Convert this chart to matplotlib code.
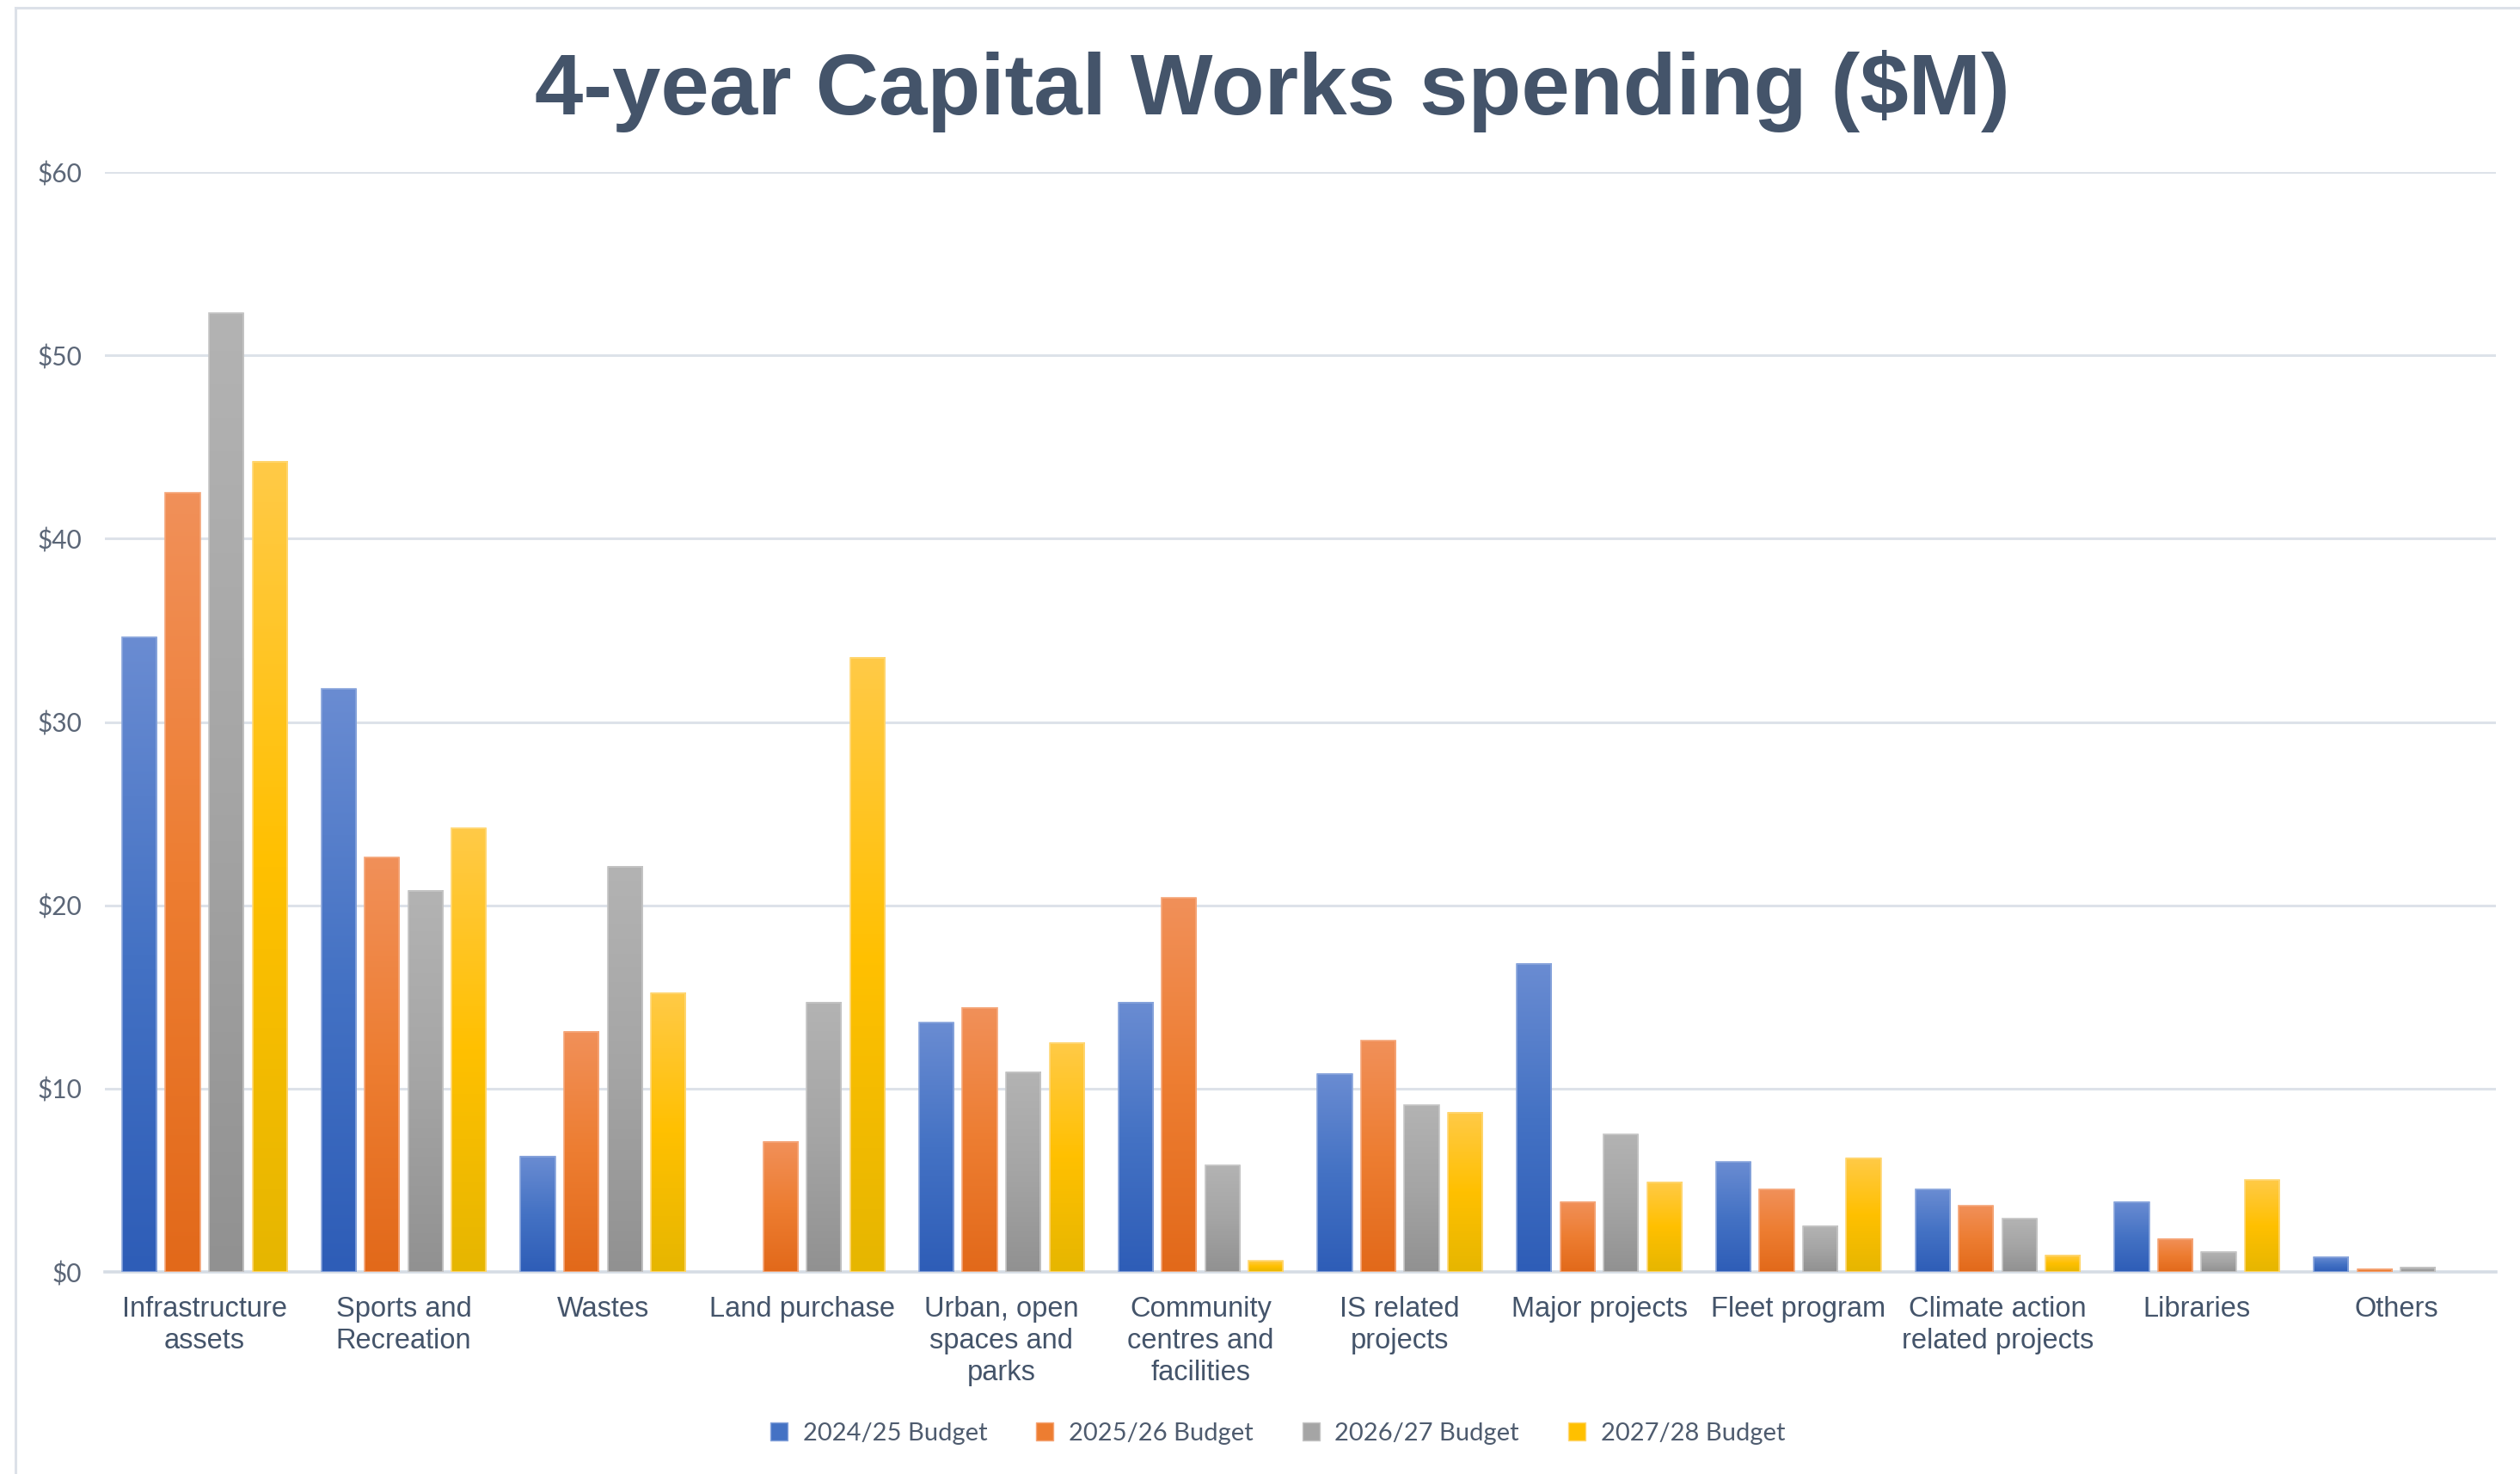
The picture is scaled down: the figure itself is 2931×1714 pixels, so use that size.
import numpy as np
import matplotlib
matplotlib.use("Agg")
import matplotlib.pyplot as plt
from matplotlib.colors import LinearSegmentedColormap
from matplotlib.patches import Patch
from matplotlib.lines import Line2D

# data ($M)
categories = [
    "Infrastructure\nassets", "Sports and\nRecreation", "Wastes", "Land purchase",
    "Urban, open\nspaces and\nparks", "Community\ncentres and\nfacilities",
    "IS related\nprojects", "Major projects", "Fleet program",
    "Climate action\nrelated projects", "Libraries", "Others",
]
series_names = ["2024/25 Budget", "2025/26 Budget", "2026/27 Budget", "2027/28 Budget"]
budget_2024 = [34.6, 31.8, 6.3, 0.0, 13.6, 14.7, 10.8, 16.8, 6.0, 4.5, 3.8, 0.8]
budget_2025 = [42.5, 22.6, 13.1, 7.1, 14.4, 20.4, 12.6, 3.8, 4.5, 3.6, 1.8, 0.15]
budget_2026 = [52.3, 20.8, 22.1, 14.7, 10.9, 5.8, 9.1, 7.5, 2.5, 2.9, 1.1, 0.25]
budget_2027 = [44.2, 24.2, 15.2, 33.5, 12.5, 0.6, 8.7, 4.9, 6.2, 0.9, 5.0, 0.0]
yticks = [0, 10, 20, 30, 40, 50, 60]

# (dark bottom, base, light top)
gradients = [
    ("#2E5DB7", "#4472C4", "#6A8CD2"),
    ("#E2691A", "#ED7D31", "#F19059"),
    ("#919191", "#A5A5A5", "#B3B3B3"),
    ("#E6B600", "#FFC000", "#FFCA47"),
]
edge_colors = ["#8AA6DC", "#F5A77A", "#C6C6C6", "#FFD877"]

TITLE_COLOR = "#44546A"
LABEL_COLOR = "#44546A"
TICK_COLOR = "#5B6677"
GRID_COLOR = "#DDE2E9"

fig = plt.figure(figsize=(29.31, 17.14), dpi=100)
ax = fig.add_axes([0.0416, 0.1371, 0.9488, 0.7462])

x = np.arange(len(categories))
slot = 0.218
bar_w = 0.173
all_series = [budget_2024, budget_2025, budget_2026, budget_2027]
grad = np.linspace(0, 1, 256).reshape(-1, 1)

for i, vals in enumerate(all_series):
    offs = (i - 1.5) * slot
    bars = ax.bar(x + offs, vals, width=bar_w, facecolor="none",
                  edgecolor=edge_colors[i], linewidth=1.2, zorder=3)
    cmap = LinearSegmentedColormap.from_list(f"g{i}", gradients[i])
    for b in bars:
        h = b.get_height()
        if h <= 0:
            b.set_visible(False)
            continue
        x0 = b.get_x()
        ax.imshow(grad, cmap=cmap, origin="lower", aspect="auto",
                  extent=[x0, x0 + b.get_width(), 0, h], zorder=2)

ax.set_xlim(-0.5, len(categories) - 0.5)
ax.set_ylim(0, 60)
ax.set_yticks(yticks)
ax.set_yticklabels([f"${v}" for v in yticks], family="Lato", fontsize=21.5, color=TICK_COLOR)
ax.set_xticks(x)
ax.set_xticklabels(categories, family="Liberation Sans", fontsize=23.5, color=LABEL_COLOR,
                   linespacing=1.25)
ax.tick_params(axis="y", length=0, pad=19)
ax.tick_params(axis="x", length=0, pad=20)

ax.grid(axis="y", color=GRID_COLOR, linewidth=2.2, zorder=0)
ax.set_axisbelow(True)
for s in ["top", "right", "left"]:
    ax.spines[s].set_visible(False)
ax.spines["bottom"].set_color("#D6DCE4")
ax.spines["bottom"].set_linewidth(2.6)
ax.spines["bottom"].set_zorder(1)

fig.text(0.505, 0.938, "4-year Capital Works spending ($M)", ha="center", va="center",
         family="Liberation Sans", fontweight="bold", fontsize=73, color=TITLE_COLOR)

handles = [Patch(facecolor=g[1], edgecolor=e, linewidth=1) for g, e in zip(gradients, edge_colors)]
leg = fig.legend(handles, series_names, loc="center", bbox_to_anchor=(0.507, 0.0275),
                 ncol=4, frameon=False, handlelength=0.7, handleheight=0.7,
                 handletextpad=0.6, columnspacing=1.95,
                 prop={"family": "Lato", "size": 21})
for t in leg.get_texts():
    t.set_color("#4E5B6E")

# chart-area frame (top and left edges visible)
fig.add_artist(Line2D([0.0061, 0.0061], [0, 0.9947], transform=fig.transFigure,
                      color="#DCE1E8", linewidth=2.2))
fig.add_artist(Line2D([0.0061, 1.0], [0.9947, 0.9947], transform=fig.transFigure,
                      color="#DCE1E8", linewidth=2.2))

fig.savefig("out.png", dpi=100, facecolor="white")
